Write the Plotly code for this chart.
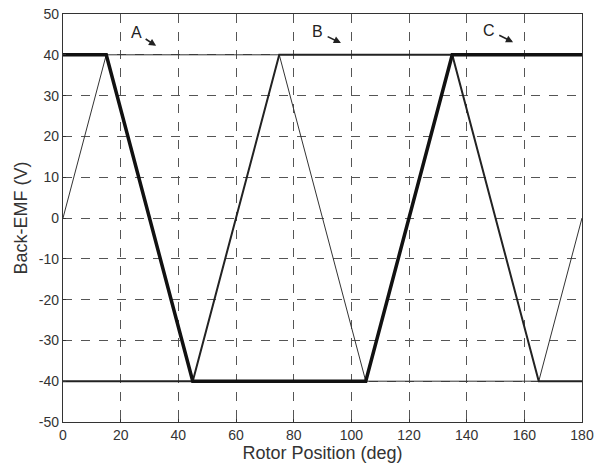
import plotly.graph_objects as go

# Phase waveforms (rotor position in deg, back-EMF in V)
pos_a = [0, 15, 75, 105, 165, 180]
emf_a = [0, 40, 40, -40, -40, 0]
pos_b = [0, 45, 75, 135, 165, 180]
emf_b = [-40, -40, 40, 40, -40, -40]
pos_c = [0, 15, 45, 105, 135, 180]
emf_c = [40, 40, -40, -40, 40, 40]

labels = ["A", "B", "C"]
label_x = [32.3, 96.4, 156.1]
label_y = [42.2, 42.9, 43.1]

x_ticks = list(range(0, 181, 20))
y_ticks = list(range(-50, 51, 10))
y_tick_text = [str(v) for v in y_ticks]

fig = go.Figure()
fig.add_trace(go.Scatter(x=pos_a, y=emf_a, mode="lines", line=dict(color="#333333", width=1), name="A"))
fig.add_trace(go.Scatter(x=pos_b, y=emf_b, mode="lines", line=dict(color="#222222", width=2), name="B"))
fig.add_trace(go.Scatter(x=pos_c, y=emf_c, mode="lines", line=dict(color="#111111", width=3.5), name="C"))

offsets = [(-20, -13), (-23, -11), (-24, -12)]
for lab, xx, yy, (ax, ay) in zip(labels, label_x, label_y, offsets):
    fig.add_annotation(x=xx, y=yy, text=lab, showarrow=True, ax=ax, ay=ay,
                       arrowhead=2, arrowsize=0.9, arrowwidth=1.6, arrowcolor="#222222",
                       font=dict(family="Liberation Sans, Arial", size=16, color="#222222"),
                       standoff=0, startstandoff=3)

axis_common = dict(showline=True, linecolor="#333333", linewidth=1.2, mirror=True,
                   showgrid=True, gridcolor="#555555", griddash="dash", gridwidth=1,
                   zeroline=False, ticks="inside", ticklen=3, tickcolor="#333333",
                   tickfont=dict(family="Liberation Sans, Arial", size=14, color="#333333"),
                   title_font=dict(family="Liberation Sans, Arial", size=18, color="#333333"))

fig.update_xaxes(range=[0, 180], tickvals=x_ticks, title_text="Rotor Position (deg)",
                 title_standoff=2, **axis_common)
fig.update_yaxes(range=[-50, 50], tickvals=y_ticks, ticktext=y_tick_text,
                 title_text="Back-EMF (V)", title_standoff=6, **axis_common)

fig.update_layout(width=600, height=474, showlegend=False,
                  margin=dict(l=63, r=18, t=14, b=52, autoexpand=False),
                  paper_bgcolor="white", plot_bgcolor="white")

fig.write_html("out.html", config={"displayModeBar": False},
               post_script="document.body.style.margin='0';")
